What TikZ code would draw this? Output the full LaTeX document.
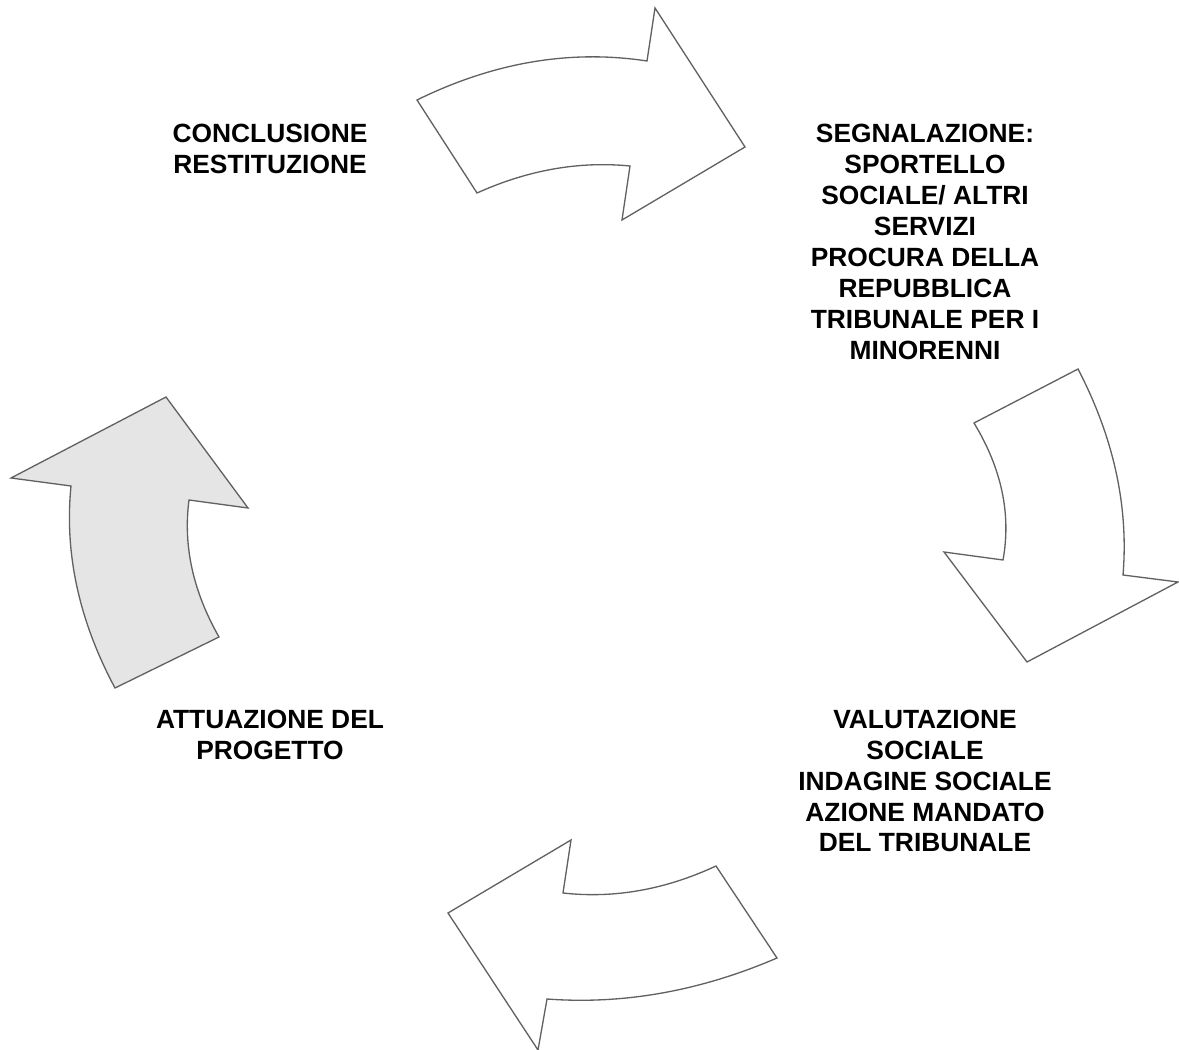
\documentclass[tikz,border=0pt]{standalone}
\usepackage{fontspec}
\setmainfont{Liberation Sans}
\begin{document}
\begin{tikzpicture}[x=0.02cm,y=-0.02cm,
  arrowshape/.style={draw=black!62, line width=0.75pt, line join=miter, fill=white},
  label/.style={align=center, font=\bfseries\fontsize{15}{17.6}\selectfont, inner sep=0pt}]
\useasboundingbox (0,0) rectangle (1179,1050);
% top arrow
\draw[arrowshape] (417,100) .. controls (493.7,62.3) and (570.3,49.3) .. (647,61)
  -- (655,8) -- (745,147) -- (622,220) -- (630,166)
  .. controls (579,161) and (528,170) .. (477,193) -- cycle;
% right arrow
\draw[arrowshape] (1078,369) -- (974,423)
  .. controls (1001.7,468.7) and (1011.3,514.3) .. (1003,560)
  -- (944,552) -- (1027,662) -- (1178,582) -- (1123,575)
  .. controls (1128.7,506.3) and (1113.7,437.7) .. (1078,369) -- cycle;
% bottom arrow
\draw[arrowshape] (716,866) .. controls (665,889.7) and (614,898.7) .. (563,893)
  -- (571,840) -- (448,913) -- (538,1050) -- (547,999)
  .. controls (623.7,1004.7) and (700.3,991) .. (777,958) -- cycle;
% left arrow
\draw[arrowshape, fill=black!10] (115,688) -- (219,637)
  .. controls (193,591.3) and (183,545.7) .. (189,500)
  -- (248,508) -- (166,397) -- (11,478) -- (71,486)
  .. controls (64.3,553.3) and (79,620.7) .. (115,688) -- cycle;
% labels
\node[label] (concl) at (270,149) {CONCLUSIONE\\RESTITUZIONE};
\node[label] (segn) at (925,242) {SEGNALAZIONE:\\SPORTELLO\\SOCIALE/ ALTRI\\SERVIZI\\PROCURA DELLA\\REPUBBLICA\\TRIBUNALE PER I\\MINORENNI};
\node[label] (attu) at (270,735) {ATTUAZIONE DEL\\PROGETTO};
\node[label] (valu) at (925,781) {VALUTAZIONE\\SOCIALE\\INDAGINE SOCIALE\\AZIONE MANDATO\\DEL TRIBUNALE};
\end{tikzpicture}
\end{document}
